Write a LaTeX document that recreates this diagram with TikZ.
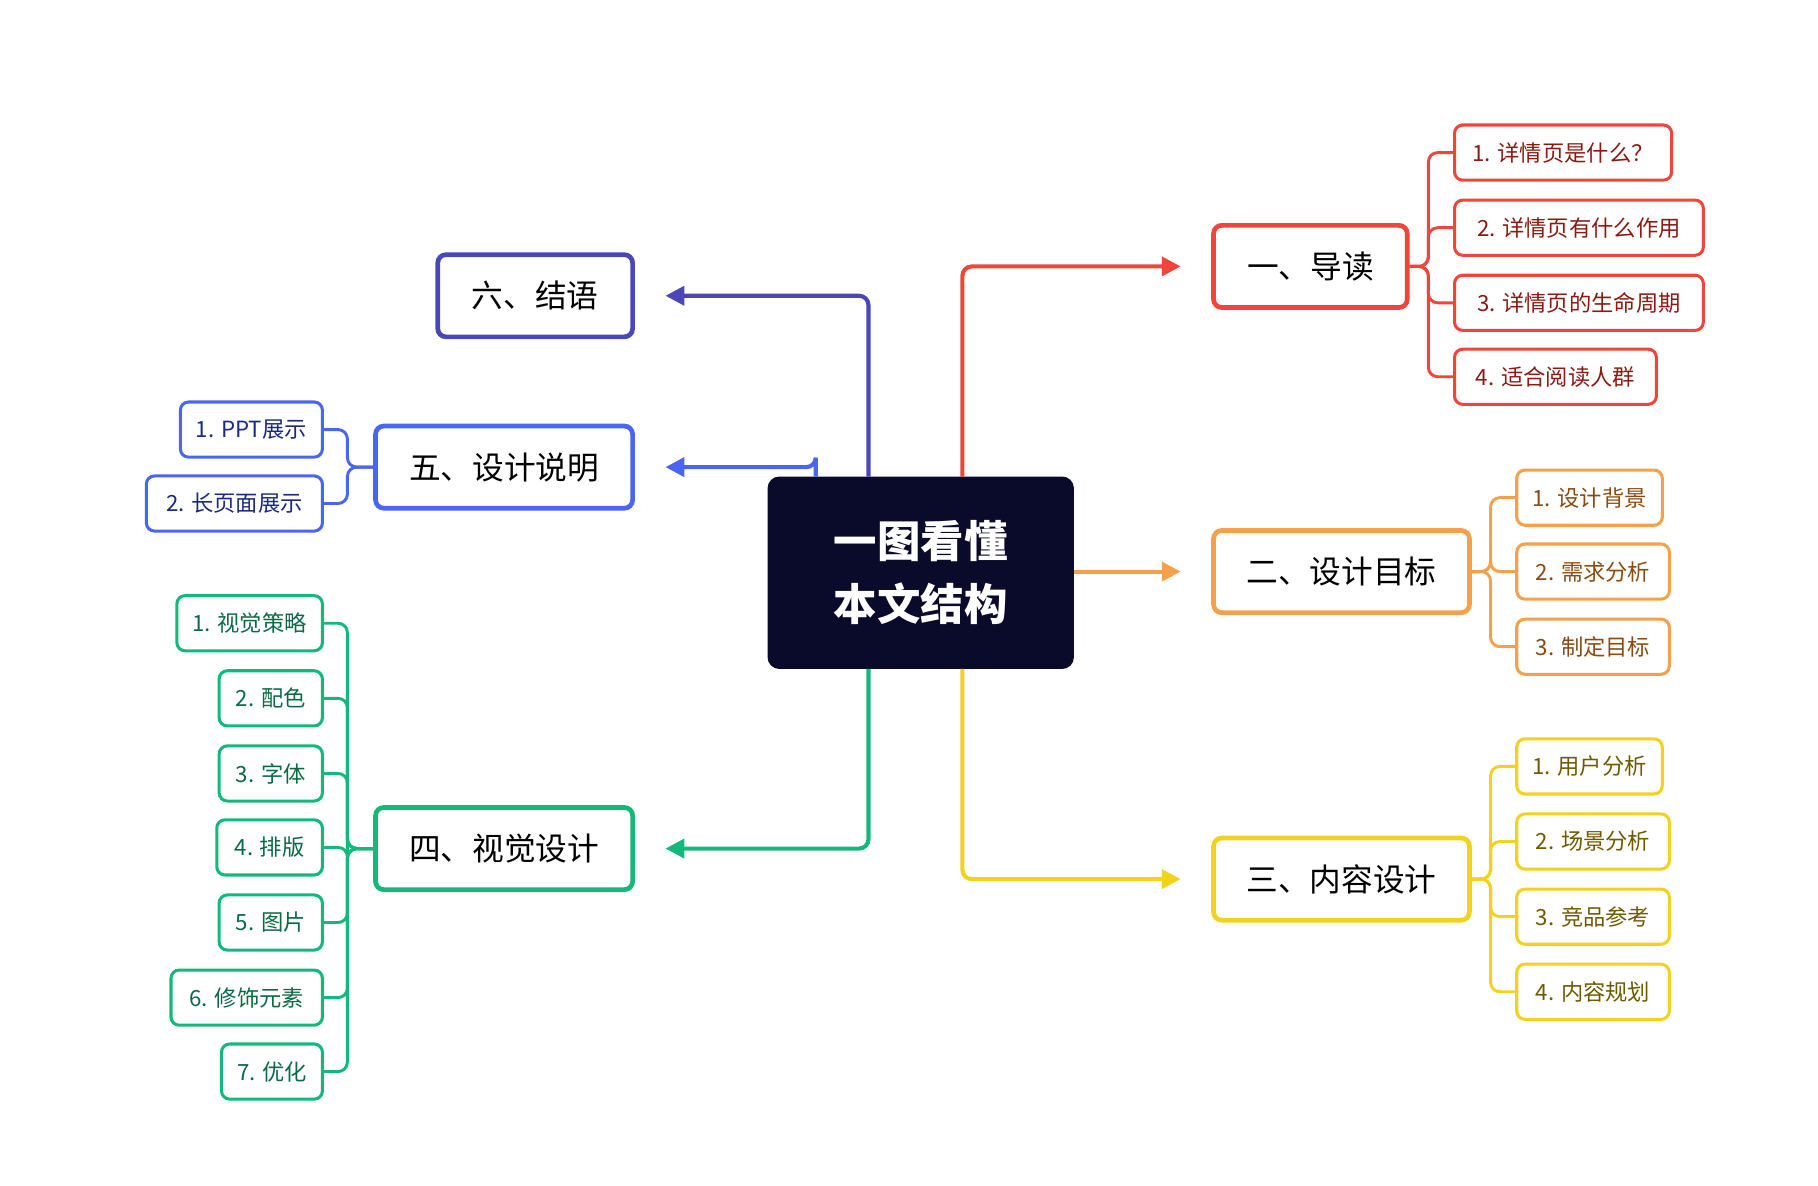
\documentclass[tikz,border=0pt]{standalone}
\usepackage{fontspec}
\newfontfamily\cjk{Noto Sans CJK SC}
\usetikzlibrary{arrows.meta}
\definecolor{cR}{HTML}{F0453A}\definecolor{tR}{HTML}{8A1A12}
\definecolor{cO}{HTML}{F5A04A}\definecolor{tO}{HTML}{8A4A10}
\definecolor{cY}{HTML}{F2D21E}\definecolor{tY}{HTML}{6E5A00}
\definecolor{cI}{HTML}{4B47B8}
\definecolor{cB}{HTML}{4A66F0}\definecolor{tB}{HTML}{1A2A80}
\definecolor{cG}{HTML}{12B97A}\definecolor{tG}{HTML}{0A6A45}
\definecolor{navy}{HTML}{0A0A2A}
\begin{document}
\begin{tikzpicture}[x=1pt,y=-1pt,font=\cjk,
 mainbox/.style={draw,line width=4pt,rounded corners=7,minimum height=70,anchor=west,font=\cjk\fontsize{27}{30}\selectfont,text=black},
 kid/.style={draw,line width=2.6pt,rounded corners=7,minimum height=47,anchor=west,font=\cjk\fontsize{19}{22}\selectfont,inner sep=0pt},
 arr/.style={line width=3.5pt,rounded corners=8,-{Triangle[length=16pt,width=16pt]}},
 br/.style={line width=2.5pt,rounded corners=8}]
\useasboundingbox (0,0) rectangle (1549,1010);
\node[fill=navy,rounded corners=10,minimum width=261,minimum height=164,text=white,font=\cjk\bfseries\fontsize{37}{54}\selectfont,align=center] (c) at (784.5,488) {一图看懂\\本文结构};
% main
\node[mainbox,draw=cR,minimum width=165] (m1) at (1032,227) {一、导读};
\node[mainbox,draw=cO,minimum width=218] (m2) at (1032,487) {二、设计目标};
\node[mainbox,draw=cY,minimum width=218] (m3) at (1032,749) {三、内容设计};
\node[mainbox,draw=cI,minimum width=166] (m6) at (371,252) {六、结语};
\node[mainbox,draw=cB,minimum width=219] (m5) at (318,398) {五、设计说明};
\node[mainbox,draw=cG,minimum width=219] (m4) at (318,723) {四、视觉设计};
\coordinate (a1) at (820,406);\coordinate (a3) at (820,570);
\coordinate (a6) at (740,406);\coordinate (a4) at (740,570);
\coordinate (a5) at (695,406);
\draw[arr,cR] (a1) |- ([xshift=-26]m1.west);
\draw[arr,cO] (c.east|-m2.west) -- ([xshift=-26]m2.west);
\draw[arr,cY] (a3) |- ([xshift=-26]m3.west);
\draw[arr,cI] (a6) |- ([xshift=26]m6.east);
\draw[arr,cG] (a4) |- ([xshift=26]m4.east);
\draw[arr,cB] (a5) -- ++(0,-8) |- ([xshift=26]m5.east);
% red kids
\foreach \n/\y/\w/\t in {1/130/185/{1. 详情页是什么？},2/194/212/{2. 详情页有什么作用},3/258/212/{3. 详情页的生命周期},4/321/172/{4. 适合阅读人群}}{
 \node[kid,draw=cR,text=tR,minimum width=\w] (r\n) at (1238,\y) {\t};
 \draw[br,cR] (m1.east) -- (1217,227) |- (r\n.west);}
\foreach \n/\y/\w/\t in {1/424/124/{1. 设计背景},2/487/130/{2. 需求分析},3/551/130/{3. 制定目标}}{
 \node[kid,draw=cO,text=tO,minimum width=\w] (o\n) at (1291,\y) {\t};
 \draw[br,cO] (m2.east) -- (1270,487) |- (o\n.west);}
\foreach \n/\y/\w/\t in {1/653/124/{1. 用户分析},2/717/130/{2. 场景分析},3/781/130/{3. 竞品参考},4/845/130/{4. 内容规划}}{
 \node[kid,draw=cY,text=tY,minimum width=\w] (y\n) at (1291,\y) {\t};
 \draw[br,cY] (m3.east) -- (1270,749) |- (y\n.west);}
\foreach \n/\y/\w/\t in {1/366/121/{1. PPT展示},2/429/150/{2. 长页面展示}}{
 \node[kid,draw=cB,text=tB,minimum width=\w,anchor=east] (b\n) at (276,\y) {\t};
 \draw[br,cB] (m5.west) -- (296,398) |- (b\n.east);}
\foreach \n/\y/\w/\t in {1/531/124/{1. 视觉策略},2/595/88/{2. 配色},3/659/88/{3. 字体},4/722/90/{4. 排版},5/786/88/{5. 图片},6/850/129/{6. 修饰元素},7/913/86/{7. 优化}}{
 \node[kid,draw=cG,text=tG,minimum width=\w,anchor=east] (g\n) at (276,\y) {\t};
 \draw[br,cG] (m4.west) -- (296,723) |- (g\n.east);}
\end{tikzpicture}
\end{document}
